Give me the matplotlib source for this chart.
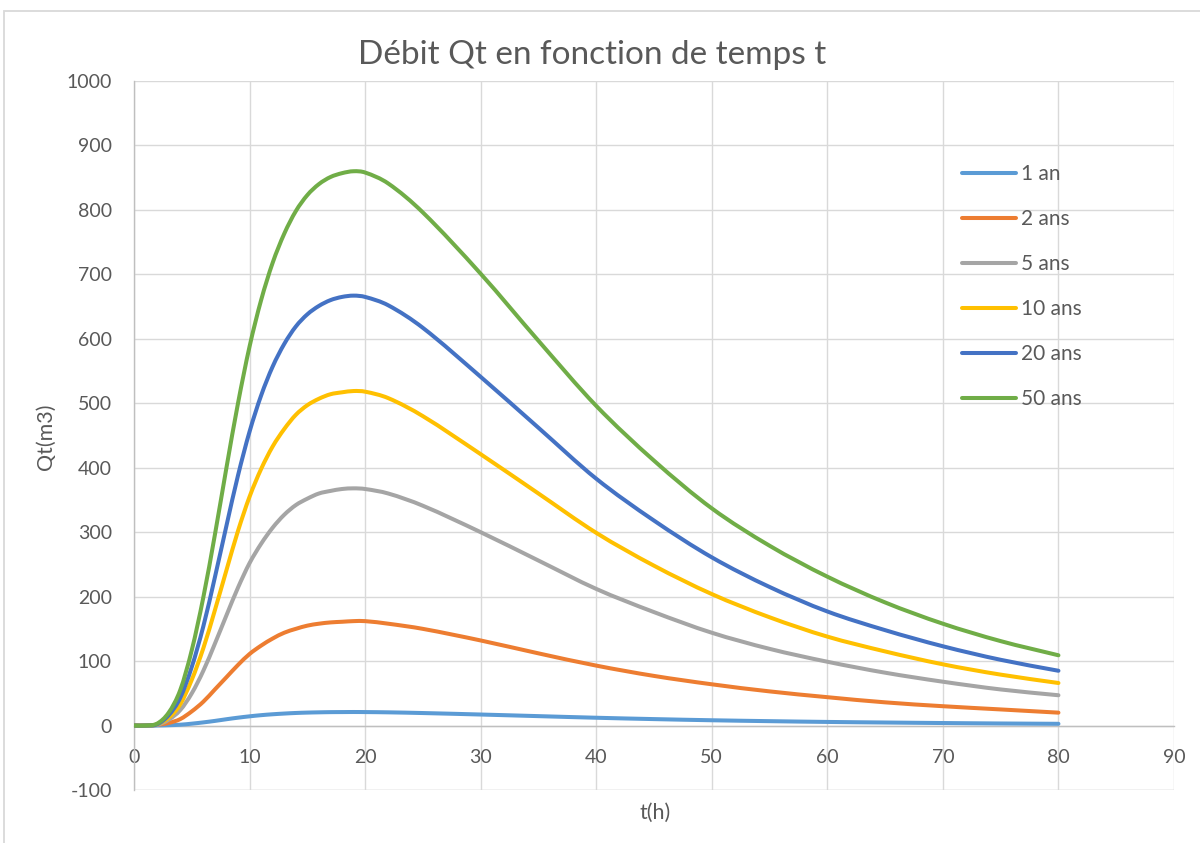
import matplotlib
matplotlib.use('Agg')
import matplotlib.pyplot as plt
import matplotlib.patches as mpatches
from matplotlib.path import Path
from matplotlib.lines import Line2D
import numpy as np

plt.rcParams.update({
    'font.family': ['Lato', 'DejaVu Sans'],
    'figure.facecolor': 'white',
    'axes.facecolor': 'white',
    'axes.unicode_minus': False,
})

GRIS_TXT = '#595959'
GRILLE = '#D9D9D9'
AXE = '#BFBFBF'

# ── Données ───────────────────────────────────────────────────────────────────
t = [0, 1, 2, 3, 4, 5, 6, 7, 8, 9, 10, 11, 12, 13, 14, 15, 16, 17, 18, 19, 20,
     22, 25, 30, 35, 40, 45, 50, 55, 60, 65, 70, 75, 80]

q_1an   = [0, 0, 0.1, 0.5, 1.3, 2.9, 4.9, 7.2, 9.8, 12.2, 14.3, 16.1, 17.5, 18.6, 19.5, 20.1, 20.5,
           20.8, 20.9, 21, 20.9, 20.5, 19.4, 17.1, 14.6, 12.1, 10, 8.2, 6.8, 5.6, 4.7, 3.9, 3.2, 2.7]
q_2ans  = [0, 0, 1, 4, 10, 22, 37, 56, 75, 94, 111, 124, 135, 144, 150, 155, 158, 160, 161, 162, 162,
           158, 150, 132, 112, 93, 77, 64, 53, 44, 36, 30, 25, 20]
q_5ans  = [0, 0, 1, 9, 24, 50, 85, 127, 171, 214, 252, 282, 307, 327, 342, 352, 360, 364, 367, 368, 367,
           360, 341, 300, 256, 212, 176, 144, 119, 99, 82, 68, 56, 47]
q_10ans = [0, 0, 2, 12, 33, 71, 120, 179, 241, 302, 355, 398, 433, 460, 482, 497, 507, 514, 517, 519, 518,
           508, 480, 421, 360, 299, 248, 204, 168, 138, 115, 95, 79, 66]
q_20ans = [0, 0, 2, 16, 43, 91, 154, 230, 310, 388, 456, 512, 557, 592, 619, 638, 651, 660, 665, 667, 665,
           652, 617, 541, 462, 383, 318, 261, 215, 177, 148, 123, 102, 85]
q_50ans = [0, 0, 3, 20, 55, 117, 199, 296, 400, 500, 588, 660, 718, 763, 798, 823, 840, 851, 857, 860, 858,
           841, 796, 701, 597, 496, 411, 337, 279, 231, 191, 158, 131, 109]

series = [
    ('1 an',   q_1an,   '#5B9BD5'),
    ('2 ans',  q_2ans,  '#ED7D31'),
    ('5 ans',  q_5ans,  '#A5A5A5'),
    ('10 ans', q_10ans, '#FFC000'),
    ('20 ans', q_20ans, '#4472C4'),
    ('50 ans', q_50ans, '#70AD47'),
]

x_ticks = list(range(0, 91, 10))
y_ticks = list(range(-100, 1001, 100))


def courbe_lisse(x, y):
    # ligne lissée façon Excel : segments de Bézier cubiques (Hermite)
    x = np.asarray(x, float)
    y = np.asarray(y, float)
    n = len(x)
    m = np.zeros(n)
    m[0] = (y[1] - y[0]) / (x[1] - x[0])
    m[-1] = (y[-1] - y[-2]) / (x[-1] - x[-2])
    m[1:-1] = (y[2:] - y[:-2]) / (x[2:] - x[:-2])
    verts = [(x[0], y[0])]
    codes = [Path.MOVETO]
    for i in range(n - 1):
        h = x[i + 1] - x[i]
        verts += [(x[i] + h / 3, y[i] + m[i] * h / 3),
                  (x[i + 1] - h / 3, y[i + 1] - m[i + 1] * h / 3),
                  (x[i + 1], y[i + 1])]
        codes += [Path.CURVE4] * 3
    return Path(verts, codes)


fig = plt.figure(figsize=(12, 8.43), dpi=100)
ax = fig.add_axes([134 / 1200, 1 - 790 / 843, (1174 - 134) / 1200, (790 - 81) / 843])

# cadre de la zone de graphique
fig.patches.append(mpatches.Rectangle((4 / 1200, -0.2), 1.2, 0.2 + 1 - 11 / 843,
                                      transform=fig.transFigure, fill=False,
                                      edgecolor=GRILLE, linewidth=1.3, zorder=0))

ax.set_xlim(0, 90)
ax.set_ylim(-100, 1000)
ax.set_xticks(x_ticks)
ax.set_yticks(y_ticks)
ax.grid(True, color=GRILLE, linewidth=1.0, zorder=0)
ax.set_axisbelow(True)

for s in ['top', 'right']:
    ax.spines[s].set_visible(False)
ax.spines['left'].set_color(AXE)
ax.spines['left'].set_linewidth(1.0)
ax.spines['bottom'].set_position(('data', 0))
ax.spines['bottom'].set_color(AXE)
ax.spines['bottom'].set_linewidth(1.0)
ax.axhline(-100, color=GRILLE, linewidth=1.0, zorder=0)

ax.tick_params(axis='both', length=0, labelsize=14, colors=GRIS_TXT)
ax.tick_params(axis='y', pad=16)
ax.tick_params(axis='x', pad=17)

handles = []
for nom, q, coul in series:
    ax.add_patch(mpatches.PathPatch(courbe_lisse(t, q), fill=False, edgecolor=coul,
                                    linewidth=2.9, capstyle='round', zorder=3))
    handles.append(Line2D([], [], color=coul, linewidth=2.9, solid_capstyle='round', label=nom))

fig.legend(handles=handles, loc='upper left', frameon=False,
           bbox_to_anchor=(962 / 1200, 1 - 164 / 843), bbox_transform=fig.transFigure,
           borderpad=0, borderaxespad=0, fontsize=15, labelcolor=GRIS_TXT,
           handlelength=2.6, handletextpad=0.25, labelspacing=1.2)

fig.text(592 / 1200, 1 - 55 / 843, 'Débit Qt en fonction de temps t', ha='center', va='center',
         fontsize=24, color=GRIS_TXT)
fig.text(46 / 1200, 1 - 437 / 843, 'Qt(m3)', ha='center', va='center', rotation=90,
         fontsize=15.5, color=GRIS_TXT)
fig.text(655 / 1200, 1 - 813 / 843, 't(h)', ha='center', va='center',
         fontsize=15.5, color=GRIS_TXT)

plt.savefig('out.png', dpi=100, facecolor='white')
plt.close()
